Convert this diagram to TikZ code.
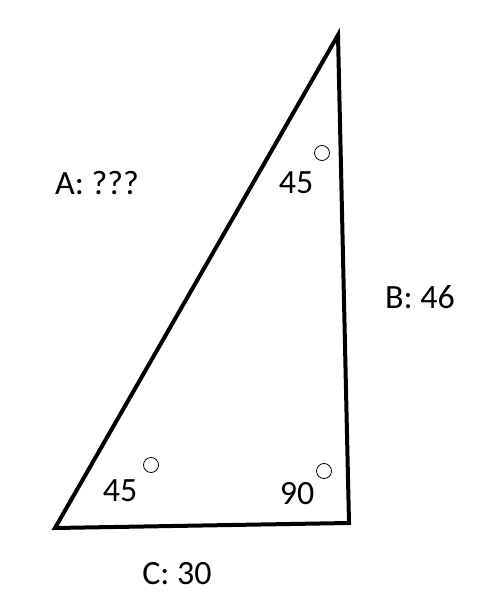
\documentclass[tikz,border=0pt]{standalone}
\usepackage{fontspec}
\setmainfont{Carlito}
\usepackage{tikz}
\usetikzlibrary{positioning}

\begin{document}
\begin{tikzpicture}[
  x=1pt, y=-1pt,
  side/.style={line width=4pt, line join=miter},
  lbl/.style={font=\fontsize{34}{40}\selectfont, inner sep=0pt},
  degmark/.style={circle, draw, line width=0.8pt, minimum size=15pt, inner sep=0pt},
]
\useasboundingbox (0,0) rectangle (493,612);
% corners
\coordinate (top) at (338,35);
\coordinate (bl)  at (55,528);
\coordinate (br)  at (349,523);
\draw[side] (top) -- (bl) -- (br) -- cycle;
% side lengths
\node[lbl] (sideA) at (97,183) {A: ???};
\node[lbl] (sideB) at (420,297) {B: 46};
\node[lbl] (sideC) at (177,574) {C: 30};
% angles
\node[lbl] (angTop) at (296,183) {45};
\node[degmark] (degTop) at (322,153) {};
\node[lbl] (angBL) at (120,491) {45};
\node[degmark] (degBL) at (151,465) {};
\node[lbl] (angBR) at (297,494) {90};
\node[degmark] (degBR) at (324,471) {};
\end{tikzpicture}
\end{document}
